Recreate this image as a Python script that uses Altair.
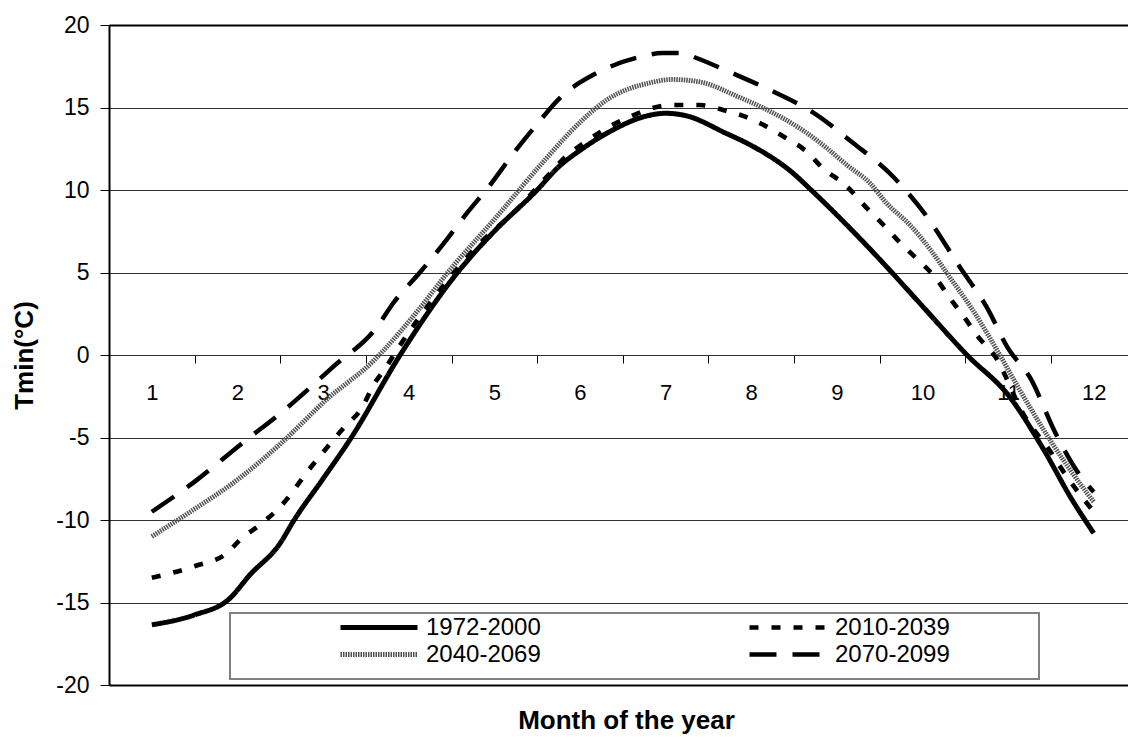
import altair as alt
import pandas as pd

series_names = ["1972-2000", "2010-2039", "2040-2069", "2070-2099"]
# legend is filled column by column, so this order gives rows (1972, 2010) / (2040, 2070)
legend_order = ["1972-2000", "2040-2069", "2010-2039", "2070-2099"]

m_1972 = [1.0, 1.5, 1.9, 2.15, 2.5, 2.65, 3.0, 3.33, 3.9, 4.57, 5.0, 5.5, 5.75, 6.0, 6.37,
          6.72, 7.0, 7.24, 7.7, 8.0, 8.47, 8.7, 9.15, 9.5, 9.94, 10.52, 11.02, 11.4, 11.75, 12.0]
t_1972 = [-16.35, -15.75, -14.8, -13.3, -11.4, -10.1, -7.5, -5.0, 0.0, 5.0, 7.5, 10.0, 11.4, 12.4, 13.6,
          14.4, 14.65, 14.5, 13.45, 12.7, 11.1, 10.0, 7.7, 5.8, 3.3, 0.0, -2.55, -5.6, -8.8, -10.8]

m_2010 = [1.0, 1.5, 1.88, 2.03, 2.26, 2.5, 2.85, 3.25, 3.46, 3.58, 3.74, 3.9, 4.3, 4.8, 5.26, 5.63,
          5.83, 6.06, 6.33, 6.61, 6.87, 7.1, 7.4, 7.67, 7.95, 8.16, 8.39, 8.63, 8.84, 9.1, 9.35,
          9.56, 9.74, 9.95, 10.15, 10.32, 10.5, 10.65, 10.85, 11.18, 11.5, 11.65, 12.0]
t_2010 = [-13.5, -12.8, -12.0, -11.2, -10.3, -9.2, -6.85, -4.36, -3.15, -1.9, -0.7, 0.6, 3.5, 6.6, 8.8, 10.9,
          12.0, 12.9, 13.8, 14.5, 15.0, 15.15, 15.15, 14.85, 14.4, 13.9, 13.2, 12.4, 11.3, 10.3, 8.9,
          7.8, 6.8, 5.75, 4.7, 3.45, 2.2, 1.1, -0.1, -3.6, -5.9, -7.1, -9.5]

m_2040 = [1.0, 1.48, 1.99, 2.52, 3.04, 3.58, 4.03, 4.48, 5.03, 5.57, 6.02, 6.31, 6.82, 7.08, 7.4,
          7.87, 8.13, 8.37, 8.65, 8.88, 9.12, 9.39, 9.58, 9.85, 10.09, 10.32, 10.59, 10.87, 11.1,
          11.49, 11.92, 12.0]
t_2040 = [-11.0, -9.4, -7.6, -5.3, -2.7, -0.4, 2.2, 5.15, 8.4, 11.7, 14.2, 15.45, 16.5, 16.7, 16.55,
          15.6, 15.0, 14.35, 13.45, 12.55, 11.5, 10.4, 9.2, 7.9, 6.4, 4.7, 2.7, 0.3, -1.8,
          -5.15, -8.36, -8.9]

m_2070 = [1.0, 1.52, 2.03, 2.58, 3.12, 3.63, 3.82, 4.13, 4.4, 4.68, 4.95, 5.22, 5.5, 5.77, 6.2,
          6.7, 6.96, 7.2, 7.36, 7.75, 8.22, 8.72, 9.19, 9.62, 10.05, 10.44, 10.75, 11.0, 11.26,
          11.55, 11.8, 12.0]
t_2070 = [-9.5, -7.6, -5.45, -3.2, -0.7, 1.7, 3.15, 5.0, 6.7, 8.6, 10.3, 12.2, 14.0, 15.6, 17.1,
          18.06, 18.3, 18.3, 18.0, 17.15, 16.06, 14.7, 12.85, 11.0, 8.4, 5.3, 2.9, 0.4, -1.4,
          -4.7, -7.0, -8.3]

month_labels_at = [0.5 + i for i in range(12)]
y_ticks = [-20, -15, -10, -5, 0, 5, 10, 15, 20]

styles = {
    "1972-2000": ("#000000", [1, 0], 5),
    "2010-2039": ("#000000", [9, 13], 4),
    "2040-2069": ("#505050", [1.5, 1], 4.5),
    "2070-2099": ("#000000", [27, 16], 4),
}

rows = []
for name, ms, ts in zip(series_names, [m_1972, m_2010, m_2040, m_2070],
                        [t_1972, t_2010, t_2040, t_2070]):
    for m, t in zip(ms, ts):
        rows.append({"series": name, "month": m, "tmin": t})
df = pd.DataFrame(rows)

FONT = "Liberation Sans"

x_scale = alt.Scale(domain=[0.5, 12.4], nice=False, zero=False)
y_scale = alt.Scale(domain=[-20, 20], nice=False, zero=False)

x_axis = alt.Axis(
    values=month_labels_at, labelExpr="'' + (datum.value + 0.5)", labelOffset=42.8,
    tickSize=8, tickColor="#000000", tickWidth=1, domain=False, grid=False,
    offset=-330, labelFontSize=22, labelPadding=19, labelColor="#000000",
    labelOverlap=False, labelBound=False, labelFlush=False, labelFont=FONT,
    title="Month of the year", titleX=517, titleY=373, titleFontSize=26,
    titleFontWeight="bold", titleBaseline="alphabetic", titleAlign="center",
    titleFont=FONT, titleColor="#000000",
)
y_axis = alt.Axis(
    values=y_ticks, grid=True, labelExpr="'' + datum.value",
    gridColor={"condition": {"test": "abs(datum.value) == 20", "value": "#000000"}, "value": "#333333"},
    gridWidth={"condition": {"test": "abs(datum.value) == 20", "value": 2}, "value": 1},
    tickSize=9, tickColor="#000000", tickWidth=1, domainColor="#000000", domainWidth=2,
    labelFontSize=23, labelPadding=11, labelColor="#000000", labelFont=FONT,
    title="Tmin(°C)", titleX=-77, titleY=330, titleAngle=270, titleAlign="center",
    titleBaseline="alphabetic", titleFontSize=26, titleFontWeight="bold", titleFont=FONT,
    titleColor="#000000",
)

legend = alt.Legend(
    orient="none", legendX=229, legendY=590, columns=2, columnPadding=206,
    title=None, symbolType="stroke", symbolSize=5929, clipHeight=25, rowPadding=2,
    labelFontSize=24, labelFont=FONT, labelColor="#000000", labelOffset=6,
    labelLimit=400, padding=0,
)

lines = alt.Chart(df).mark_line(interpolate="monotone", strokeCap="butt", strokeJoin="round").encode(
    x=alt.X("month:Q", scale=x_scale, axis=x_axis),
    y=alt.Y("tmin:Q", scale=y_scale, axis=y_axis),
    color=alt.Color("series:N", scale=alt.Scale(domain=legend_order,
                    range=[styles[s][0] for s in legend_order]), legend=legend),
    strokeDash=alt.StrokeDash("series:N", scale=alt.Scale(domain=legend_order,
                    range=[styles[s][1] for s in legend_order]), legend=legend),
    strokeWidth=alt.StrokeWidth("series:N", scale=alt.Scale(domain=legend_order,
                    range=[styles[s][2] for s in legend_order]), legend=legend),
)

box = alt.Chart(pd.DataFrame({"box": [0]})).mark_rect(
    fill="white", stroke="#808080", strokeWidth=2
).encode(
    x=alt.value(121), x2=alt.value(930), y=alt.value(588), y2=alt.value(654)
)

chart = alt.layer(lines, box).properties(
    width=1019, height=660,
    autosize=alt.AutoSizeParams(type="none"),
    padding={"left": 101, "top": 17, "right": 0, "bottom": 50},
).configure_view(strokeWidth=0).configure(background="white")

chart.save("out.html", embed_options={"renderer": "svg", "actions": False})
